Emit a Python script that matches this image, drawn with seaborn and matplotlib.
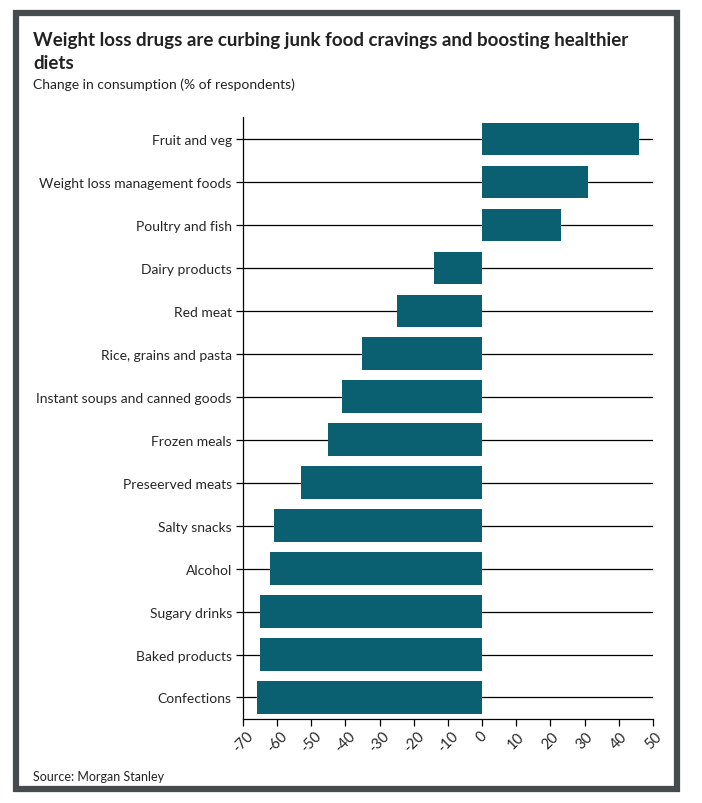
import matplotlib as mpl
mpl.use("Agg")
import matplotlib.pyplot as plt
import pandas as pd
import seaborn as sns
from matplotlib.patches import Rectangle

categories = [
    "Fruit and veg", "Weight loss management foods", "Poultry and fish",
    "Dairy products", "Red meat", "Rice, grains and pasta",
    "Instant soups and canned goods", "Frozen meals", "Preseerved meats",
    "Salty snacks", "Alcohol", "Sugary drinks", "Baked products", "Confections",
]
change = [46, 31, 23, -14, -25, -35, -41, -45, -53, -61, -62, -65, -65, -66]
xticks = list(range(-70, 51, 10))

BAR = "#0a5f70"
FRAME = "#464b4d"

sns.set_theme(style="white")
plt.rcParams["font.family"] = ["Lato", "DejaVu Sans"]

df = pd.DataFrame({"category": categories, "change": change})

fig = plt.figure(figsize=(7.02, 8.04), dpi=100)
ax = fig.add_axes([0.346, 0.1045, 0.584, 0.7485])

for i in range(len(categories)):
    ax.plot([-70, 50], [i, i], color="black", lw=0.9, zorder=1)

sns.barplot(data=df, x="change", y="category", color=BAR, width=0.75,
            saturation=1, linewidth=0, ax=ax, zorder=2)

ax.set_xlim(-70, 50)
ax.set_ylim(len(categories) - 0.5, -0.5)
ax.set_xticks(xticks)
ax.set_xticklabels([str(t) for t in xticks], rotation=45, ha="center", fontsize=10.5)
ax.tick_params(axis="y", labelsize=10, length=5, width=0.9, color="black", pad=3)
ax.tick_params(axis="x", length=5, width=0.9, color="black", pad=2)
ax.tick_params(left=True, bottom=True)
ax.set_xlabel("")
ax.set_ylabel("")
for s in ["top", "right"]:
    ax.spines[s].set_visible(False)
for s in ["left", "bottom"]:
    ax.spines[s].set_color("black")
    ax.spines[s].set_linewidth(0.9)

fig.patches.append(Rectangle((16 / 702, 1 - 790 / 804), 661 / 702, 776 / 804,
                             transform=fig.transFigure, fill=False,
                             edgecolor=FRAME, lw=4.5, zorder=0))

title_lines = ["Weight loss drugs are curbing junk food cravings and boosting healthier",
               "diets"]
for k, line in enumerate(title_lines):
    fig.text(33 / 702, 1 - (46 + 23 * k) / 804, line,
             fontsize=13.5, fontweight="bold", color="#222222", va="baseline")
fig.text(33 / 702, 1 - 89 / 804, "Change in consumption (% of respondents)",
         fontsize=10, color="#222222", va="baseline")
fig.text(33 / 702, 1 - 781 / 804, "Source: Morgan Stanley",
         fontsize=9, color="#222222", va="baseline")

fig.savefig("out.png", dpi=100)
